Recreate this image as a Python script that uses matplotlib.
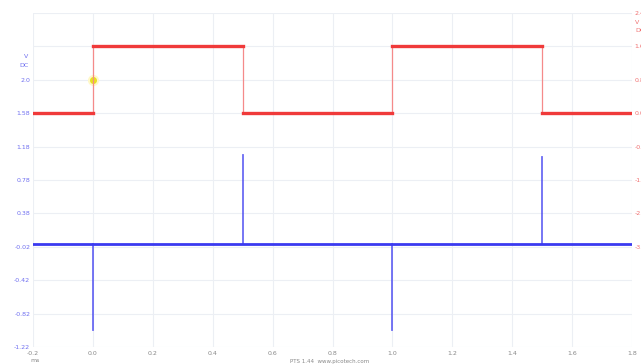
import numpy as np
import matplotlib.pyplot as plt

x_ticks = [-0.2, 0.0, 0.2, 0.4, 0.6, 0.8, 1.0, 1.2, 1.4, 1.6, 1.8]
x_labels = ['-0.2', '0.0', '0.2', '0.4', '0.6', '0.8', '1.0', '1.2', '1.4', '1.6', '1.8']

# channel A (blue), left scale
left_ticks = [-1.22, -0.82, -0.42, -0.02, 0.38, 0.78, 1.18, 1.58, 1.98, 2.38, 2.78]
left_labels = ['-1.22', '-0.82', '-0.42', '-0.02', '0.38', '0.78', '1.18', '1.58', '2.0', '', '']
blue_base = 0.015
spike_t = [0.0, 0.5, 1.0, 1.5]
spike_v = [-1.02, 1.08, -1.02, 1.06]

# channel B (red), right scale
right_ticks = [2.4, 1.6, 0.8, 0.0, -0.8, -1.6, -2.4, -3.2]
right_labels = ['2.4', '1.6', '0.8', '0.0', '-0.8', '-1.6', '-2.4', '-3.2']
red_edges = [-0.2, 0.0, 0.5, 1.0, 1.5, 1.8]
red_levels = [0.0, 1.6, 0.0, 1.6, 0.0]

trigger = (0.0, 1.98)

blue = '#3a3af0'
red = '#f03a3a'

fig = plt.figure(figsize=(6.41, 3.64), dpi=100)
ax = fig.add_axes([33 / 641, 1 - 347 / 364, 599 / 641, 334 / 364])
ax.set_xlim(-0.2, 1.8)
ax.set_ylim(-1.22, 2.78)

# blue trace: flat baseline with short spikes at each edge
ax.axhline(blue_base, color=blue, lw=2.0, zorder=3)
for t, v in zip(spike_t, spike_v):
    ax.plot([t, t], [blue_base, v], color=blue, lw=1.3, alpha=0.75, zorder=3)

ax.set_xticks(x_ticks)
ax.set_xticklabels(x_labels)
ax.set_yticks(left_ticks)
ax.set_yticklabels(left_labels)
ax.tick_params(axis='x', length=0, labelsize=4.5, colors='#888888', pad=3)
ax.tick_params(axis='y', length=0, labelsize=4.5, colors='#6f6ff0', pad=2)
ax.grid(True, color='#eceff4', lw=0.8)
for s in ax.spines.values():
    s.set_visible(False)

ax.text(-0.215, 2.26, 'V', color='#6f6ff0', fontsize=4.5, ha='right', va='center')
ax.text(-0.215, 2.15, 'DC', color='#6f6ff0', fontsize=4.5, ha='right', va='center')

# red trace on its own scale
ax2 = ax.twinx()
ax2.set_ylim(-5.6, 2.4)
for i, lvl in enumerate(red_levels):
    ax2.plot([red_edges[i], red_edges[i + 1]], [lvl, lvl], color=red, lw=2.4, zorder=3)
for i in range(1, len(red_edges) - 1):
    ax2.plot([red_edges[i], red_edges[i]], [red_levels[i - 1], red_levels[i]],
             color='#f58a8a', lw=0.9, zorder=2)
ax2.set_yticks(right_ticks)
ax2.set_yticklabels(right_labels)
ax2.tick_params(axis='y', length=0, labelsize=4.5, colors='#f07070', pad=2)
for s in ax2.spines.values():
    s.set_visible(False)
ax2.text(1.81, 2.18, 'V', color='#f07070', fontsize=4.5, ha='left', va='center')
ax2.text(1.81, 1.97, 'DC', color='#f07070', fontsize=4.5, ha='left', va='center')

# trigger marker
ax.plot(*trigger, 'o', ms=7, color='#fff8c8', zorder=4)
ax.plot(*trigger, 'o', ms=4, color='#e8e020', zorder=5)

fig.text(30 / 641, 1 - 361 / 364, 'ms', fontsize=4.5, color='#888888', va='center')
fig.text(330 / 641, 1 - 362 / 364, 'PTS 1.44  www.picotech.com', fontsize=4, color='#888888',
         ha='center', va='center')

fig.savefig('out.png', dpi=100)
